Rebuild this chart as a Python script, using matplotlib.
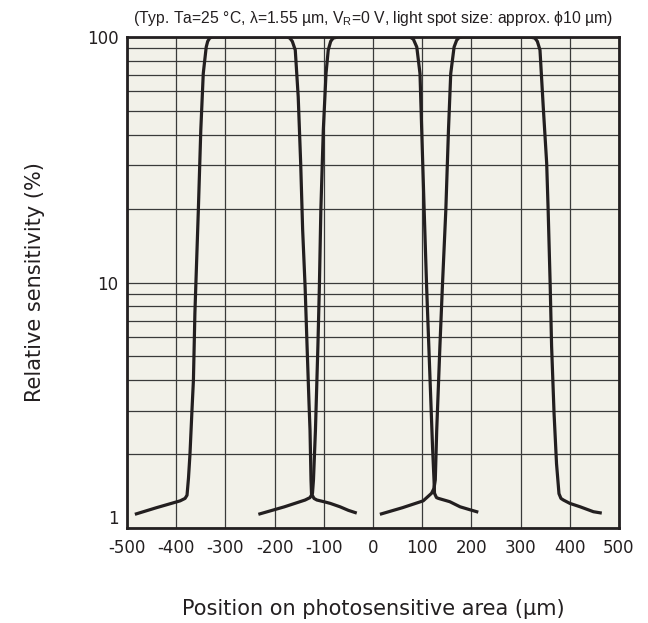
import numpy as np
import matplotlib
matplotlib.use("Agg")
import matplotlib.pyplot as plt
from matplotlib.ticker import FixedLocator, NullFormatter

# readings (position in um, relative sensitivity in %)
elem1_x = [-484, -440, -392, -382, -378, -375, -372, -368, -365, -362, -355, -350,
           -345, -339, -336, -332, -327, -175, -169, -164, -158, -152, -147, -143,
           -138, -134, -130, -128, -126, -125, -120, -114, -100, -87, -67, -50, -33]
elem1_y = [1.137, 1.21, 1.29, 1.32, 1.36, 1.6, 2.0, 3.0, 4.0, 7.5, 19.7, 41.8,
           71, 91, 96, 99, 100, 100, 99, 96, 88.5, 57, 30.6, 16.4,
           9.6, 5.5, 3.2, 2.5, 1.57, 1.38, 1.32, 1.30, 1.28, 1.26, 1.22, 1.18, 1.15]

elem2_x = [-233, -180, -138, -128, -123, -121, -117, -112, -109, -106, -101, -95.5,
           -91, -86, -81, -71, 75, 82, 89, 95.5, 99, 104, 109, 116, 121, 124,
           125, 129, 133, 156, 177, 195, 214]
elem2_y = [1.137, 1.22, 1.30, 1.33, 1.385, 1.57, 2.5, 5.5, 9.6, 19.7, 41.8, 71,
           88.5, 96, 99, 100, 100, 98, 91, 71, 41.8, 19.7, 9.6, 4.0, 2.14, 1.57,
           1.385, 1.33, 1.32, 1.28, 1.22, 1.19, 1.16]

elem3_x = [14, 60, 102, 119, 124, 126.6, 129.5, 136, 141, 148, 153.4, 158, 164.8,
           170, 175, 182, 319, 329, 334, 339.4, 346, 353, 356, 360, 363, 368, 373,
           378, 382, 387, 400, 421, 448, 465]
elem3_y = [1.137, 1.21, 1.29, 1.385, 1.45, 1.57, 2.5, 5.5, 9.6, 19.7, 41.8, 71, 91,
           97, 99.5, 100, 100, 99, 96, 88.5, 52, 30.6, 19.7, 10, 5.5, 2.93, 1.83,
           1.38, 1.32, 1.30, 1.26, 1.22, 1.165, 1.15]

x_ticks = [-500, -400, -300, -200, -100, 0, 100, 200, 300, 400, 500]
y_ticks = [1, 10, 100]
y_minor = [2, 3, 4, 5, 6, 7, 8, 9, 20, 30, 40, 50, 60, 70, 80, 90]

plt.rcParams['font.family'] = ['Liberation Sans', 'DejaVu Sans']
ink = '#231f20'

fig = plt.figure(figsize=(6.48, 6.23), dpi=100)
ax = fig.add_axes([127 / 648, 1 - 528 / 623, 492 / 648, 491 / 623])
ax.set_facecolor('#f2f1e9')

for xs, ys in [(elem1_x, elem1_y), (elem2_x, elem2_y), (elem3_x, elem3_y)]:
    ax.plot(xs, ys, color=ink, lw=2.3, solid_joinstyle='round',
            solid_capstyle='butt', zorder=3)

ax.set_yscale('log')
ax.set_xlim(-500, 500)
ax.set_ylim(1, 100)
ax.xaxis.set_major_locator(FixedLocator(x_ticks))
ax.yaxis.set_major_locator(FixedLocator(y_ticks))
ax.yaxis.set_minor_locator(FixedLocator(y_minor))
ax.yaxis.set_minor_formatter(NullFormatter())
ax.set_yticklabels([str(v) for v in y_ticks])
ax.set_xticklabels([str(v) for v in x_ticks])

ax.grid(True, which='both', color='#3a3a3a', lw=0.9)
ax.tick_params(which='both', length=0, labelsize=12, colors=ink,
               labelfontfamily='DejaVu Sans')
ax.tick_params(axis='x', pad=8)
ax.tick_params(axis='y', pad=6)

for s in ax.spines.values():
    s.set_linewidth(2.0)
    s.set_color(ink)
    s.set_zorder(4)

ax.set_title('(Typ. Ta=25 \u00b0C, \u03bb=1.55 \u00b5m, V$_\\mathregular{R}$=0 V, '
             'light spot size: approx. \u03d510 \u00b5m)',
             fontsize=11.3, pad=10, color=ink)
ax.set_xlabel('Position on photosensitive area (\u00b5m)', fontsize=15,
              labelpad=30, color=ink, family=['DejaVu Sans'])
ax.set_ylabel('Relative sensitivity (%)', fontsize=15, labelpad=30,
              color=ink, family=['DejaVu Sans'])

fig.canvas.draw()
ax.get_yticklabels()[0].set_verticalalignment('bottom')

fig.savefig('out.png', dpi=100)
